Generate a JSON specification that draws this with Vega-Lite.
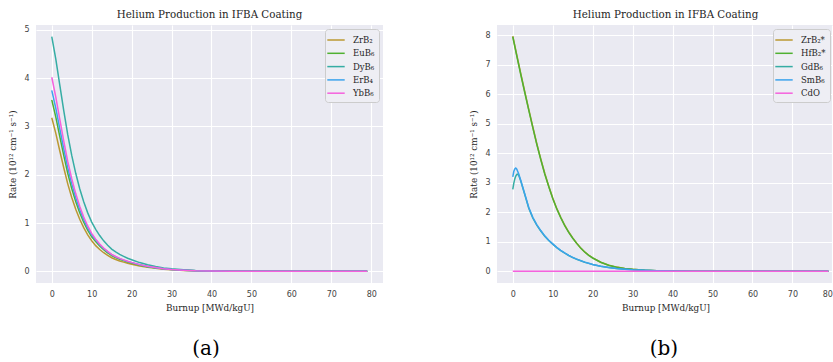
{
  "$schema": "https://vega.github.io/schema/vega-lite/v6.json",
  "background": "white",
  "padding": {"left": 8, "top": 9, "right": 0, "bottom": 0},
  "config": {
    "view": {"fill": "#eaeaf2", "stroke": null},
    "font": "DejaVu Serif",
    "title": {"font": "DejaVu Serif", "fontSize": 10.3, "fontWeight": "normal", "color": "#262626", "offset": 5},
    "axis": {
      "grid": true, "gridColor": "#ffffff", "gridWidth": 1.1,
      "domain": false, "ticks": false, "tickSize": 0,
      "labelFont": "DejaVu Sans", "labelFontSize": 8, "labelColor": "#444444", "labelPadding": 7,
      "titleFont": "DejaVu Serif", "titleFontSize": 8.8, "titleFontWeight": "normal", "titleColor": "#262626"
    },
    "legend": {
      "symbolType": "M-1.45,0H1.45", "symbolSize": 144, "symbolStrokeWidth": 1.5,
      "labelFont": "DejaVu Serif", "labelFontSize": 8.5, "labelColor": "#262626", "labelOffset": 10,
      "strokeColor": "#cccccc", "fillColor": "#eeeef4", "cornerRadius": 3, "padding": 4, "rowPadding": 1.3
    },
    "concat": {"spacing": 86}
  },
  "hconcat": [
    {
      "title": {"text": "(a)", "orient": "bottom", "anchor": "middle", "fontSize": 20, "color": "#000000", "offset": 27, "dx": 10},
      "resolve": {"scale": {"color": "independent"}, "legend": {"color": "independent"}},
      "vconcat": [
        {
          "title": {"text": "Helium Production in IFBA Coating"},
          "width": 347,
          "height": 258,
          "data": {"values": [
            {"material": "ZrB₂", "burnup": 0, "rate": 3.18},
            {"material": "ZrB₂", "burnup": 1, "rate": 2.864},
            {"material": "ZrB₂", "burnup": 2, "rate": 2.497},
            {"material": "ZrB₂", "burnup": 3, "rate": 2.145},
            {"material": "ZrB₂", "burnup": 4, "rate": 1.811},
            {"material": "ZrB₂", "burnup": 5, "rate": 1.529},
            {"material": "ZrB₂", "burnup": 6, "rate": 1.287},
            {"material": "ZrB₂", "burnup": 7, "rate": 1.077},
            {"material": "ZrB₂", "burnup": 8, "rate": 0.903},
            {"material": "ZrB₂", "burnup": 9, "rate": 0.754},
            {"material": "ZrB₂", "burnup": 10, "rate": 0.632},
            {"material": "ZrB₂", "burnup": 11, "rate": 0.531},
            {"material": "ZrB₂", "burnup": 12, "rate": 0.451},
            {"material": "ZrB₂", "burnup": 13, "rate": 0.384},
            {"material": "ZrB₂", "burnup": 14, "rate": 0.329},
            {"material": "ZrB₂", "burnup": 15, "rate": 0.281},
            {"material": "ZrB₂", "burnup": 16, "rate": 0.244},
            {"material": "ZrB₂", "burnup": 17, "rate": 0.214},
            {"material": "ZrB₂", "burnup": 18, "rate": 0.189},
            {"material": "ZrB₂", "burnup": 19, "rate": 0.165},
            {"material": "ZrB₂", "burnup": 20, "rate": 0.146},
            {"material": "ZrB₂", "burnup": 22, "rate": 0.11},
            {"material": "ZrB₂", "burnup": 24, "rate": 0.082},
            {"material": "ZrB₂", "burnup": 26, "rate": 0.061},
            {"material": "ZrB₂", "burnup": 28, "rate": 0.043},
            {"material": "ZrB₂", "burnup": 30, "rate": 0.031},
            {"material": "ZrB₂", "burnup": 33, "rate": 0.018},
            {"material": "ZrB₂", "burnup": 36, "rate": 0.009},
            {"material": "ZrB₂", "burnup": 40, "rate": 0.005},
            {"material": "ZrB₂", "burnup": 45, "rate": 0.002},
            {"material": "ZrB₂", "burnup": 50, "rate": 0.001},
            {"material": "ZrB₂", "burnup": 60, "rate": 0},
            {"material": "ZrB₂", "burnup": 70, "rate": 0},
            {"material": "ZrB₂", "burnup": 79, "rate": 0},

            {"material": "EuB₆", "burnup": 0, "rate": 3.55},
            {"material": "EuB₆", "burnup": 1, "rate": 3.199},
            {"material": "EuB₆", "burnup": 2, "rate": 2.795},
            {"material": "EuB₆", "burnup": 3, "rate": 2.401},
            {"material": "EuB₆", "burnup": 4, "rate": 2.032},
            {"material": "EuB₆", "burnup": 5, "rate": 1.716},
            {"material": "EuB₆", "burnup": 6, "rate": 1.445},
            {"material": "EuB₆", "burnup": 7, "rate": 1.212},
            {"material": "EuB₆", "burnup": 8, "rate": 1.017},
            {"material": "EuB₆", "burnup": 9, "rate": 0.851},
            {"material": "EuB₆", "burnup": 10, "rate": 0.714},
            {"material": "EuB₆", "burnup": 11, "rate": 0.618},
            {"material": "EuB₆", "burnup": 12, "rate": 0.525},
            {"material": "EuB₆", "burnup": 13, "rate": 0.447},
            {"material": "EuB₆", "burnup": 14, "rate": 0.383},
            {"material": "EuB₆", "burnup": 15, "rate": 0.327},
            {"material": "EuB₆", "burnup": 16, "rate": 0.284},
            {"material": "EuB₆", "burnup": 17, "rate": 0.249},
            {"material": "EuB₆", "burnup": 18, "rate": 0.22},
            {"material": "EuB₆", "burnup": 19, "rate": 0.192},
            {"material": "EuB₆", "burnup": 20, "rate": 0.17},
            {"material": "EuB₆", "burnup": 22, "rate": 0.128},
            {"material": "EuB₆", "burnup": 24, "rate": 0.096},
            {"material": "EuB₆", "burnup": 26, "rate": 0.071},
            {"material": "EuB₆", "burnup": 28, "rate": 0.05},
            {"material": "EuB₆", "burnup": 30, "rate": 0.036},
            {"material": "EuB₆", "burnup": 33, "rate": 0.021},
            {"material": "EuB₆", "burnup": 36, "rate": 0.011},
            {"material": "EuB₆", "burnup": 40, "rate": 0.006},
            {"material": "EuB₆", "burnup": 45, "rate": 0.002},
            {"material": "EuB₆", "burnup": 50, "rate": 0.001},
            {"material": "EuB₆", "burnup": 60, "rate": 0},
            {"material": "EuB₆", "burnup": 70, "rate": 0},
            {"material": "EuB₆", "burnup": 79, "rate": 0},

            {"material": "DyB₆", "burnup": 0, "rate": 4.86},
            {"material": "DyB₆", "burnup": 1, "rate": 4.4},
            {"material": "DyB₆", "burnup": 2, "rate": 3.86},
            {"material": "DyB₆", "burnup": 3, "rate": 3.33},
            {"material": "DyB₆", "burnup": 4, "rate": 2.83},
            {"material": "DyB₆", "burnup": 5, "rate": 2.4},
            {"material": "DyB₆", "burnup": 6, "rate": 2.03},
            {"material": "DyB₆", "burnup": 7, "rate": 1.71},
            {"material": "DyB₆", "burnup": 8, "rate": 1.44},
            {"material": "DyB₆", "burnup": 9, "rate": 1.21},
            {"material": "DyB₆", "burnup": 10, "rate": 1.02},
            {"material": "DyB₆", "burnup": 11, "rate": 0.87},
            {"material": "DyB₆", "burnup": 12, "rate": 0.74},
            {"material": "DyB₆", "burnup": 13, "rate": 0.63},
            {"material": "DyB₆", "burnup": 14, "rate": 0.54},
            {"material": "DyB₆", "burnup": 15, "rate": 0.46},
            {"material": "DyB₆", "burnup": 16, "rate": 0.4},
            {"material": "DyB₆", "burnup": 17, "rate": 0.35},
            {"material": "DyB₆", "burnup": 18, "rate": 0.31},
            {"material": "DyB₆", "burnup": 19, "rate": 0.27},
            {"material": "DyB₆", "burnup": 20, "rate": 0.24},
            {"material": "DyB₆", "burnup": 22, "rate": 0.18},
            {"material": "DyB₆", "burnup": 24, "rate": 0.135},
            {"material": "DyB₆", "burnup": 26, "rate": 0.1},
            {"material": "DyB₆", "burnup": 28, "rate": 0.07},
            {"material": "DyB₆", "burnup": 30, "rate": 0.05},
            {"material": "DyB₆", "burnup": 33, "rate": 0.03},
            {"material": "DyB₆", "burnup": 36, "rate": 0.015},
            {"material": "DyB₆", "burnup": 40, "rate": 0.008},
            {"material": "DyB₆", "burnup": 45, "rate": 0.003},
            {"material": "DyB₆", "burnup": 50, "rate": 0.001},
            {"material": "DyB₆", "burnup": 60, "rate": 0},
            {"material": "DyB₆", "burnup": 70, "rate": 0},
            {"material": "DyB₆", "burnup": 79, "rate": 0},

            {"material": "ErB₄", "burnup": 0, "rate": 3.75},
            {"material": "ErB₄", "burnup": 1, "rate": 3.379},
            {"material": "ErB₄", "burnup": 2, "rate": 2.953},
            {"material": "ErB₄", "burnup": 3, "rate": 2.534},
            {"material": "ErB₄", "burnup": 4, "rate": 2.142},
            {"material": "ErB₄", "burnup": 5, "rate": 1.81},
            {"material": "ErB₄", "burnup": 6, "rate": 1.523},
            {"material": "ErB₄", "burnup": 7, "rate": 1.276},
            {"material": "ErB₄", "burnup": 8, "rate": 1.068},
            {"material": "ErB₄", "burnup": 9, "rate": 0.894},
            {"material": "ErB₄", "burnup": 10, "rate": 0.75},
            {"material": "ErB₄", "burnup": 11, "rate": 0.648},
            {"material": "ErB₄", "burnup": 12, "rate": 0.551},
            {"material": "ErB₄", "burnup": 13, "rate": 0.469},
            {"material": "ErB₄", "burnup": 14, "rate": 0.402},
            {"material": "ErB₄", "burnup": 15, "rate": 0.343},
            {"material": "ErB₄", "burnup": 16, "rate": 0.298},
            {"material": "ErB₄", "burnup": 17, "rate": 0.261},
            {"material": "ErB₄", "burnup": 18, "rate": 0.231},
            {"material": "ErB₄", "burnup": 19, "rate": 0.201},
            {"material": "ErB₄", "burnup": 20, "rate": 0.179},
            {"material": "ErB₄", "burnup": 22, "rate": 0.134},
            {"material": "ErB₄", "burnup": 24, "rate": 0.101},
            {"material": "ErB₄", "burnup": 26, "rate": 0.075},
            {"material": "ErB₄", "burnup": 28, "rate": 0.052},
            {"material": "ErB₄", "burnup": 30, "rate": 0.037},
            {"material": "ErB₄", "burnup": 33, "rate": 0.022},
            {"material": "ErB₄", "burnup": 36, "rate": 0.011},
            {"material": "ErB₄", "burnup": 40, "rate": 0.006},
            {"material": "ErB₄", "burnup": 45, "rate": 0.002},
            {"material": "ErB₄", "burnup": 50, "rate": 0.001},
            {"material": "ErB₄", "burnup": 60, "rate": 0},
            {"material": "ErB₄", "burnup": 70, "rate": 0},
            {"material": "ErB₄", "burnup": 79, "rate": 0},

            {"material": "YbB₆", "burnup": 0, "rate": 4.02},
            {"material": "YbB₆", "burnup": 1, "rate": 3.612},
            {"material": "YbB₆", "burnup": 2, "rate": 3.15},
            {"material": "YbB₆", "burnup": 3, "rate": 2.697},
            {"material": "YbB₆", "burnup": 4, "rate": 2.275},
            {"material": "YbB₆", "burnup": 5, "rate": 1.918},
            {"material": "YbB₆", "burnup": 6, "rate": 1.61},
            {"material": "YbB₆", "burnup": 7, "rate": 1.346},
            {"material": "YbB₆", "burnup": 8, "rate": 1.125},
            {"material": "YbB₆", "burnup": 9, "rate": 0.939},
            {"material": "YbB₆", "burnup": 10, "rate": 0.785},
            {"material": "YbB₆", "burnup": 11, "rate": 0.666},
            {"material": "YbB₆", "burnup": 12, "rate": 0.566},
            {"material": "YbB₆", "burnup": 13, "rate": 0.482},
            {"material": "YbB₆", "burnup": 14, "rate": 0.413},
            {"material": "YbB₆", "burnup": 15, "rate": 0.352},
            {"material": "YbB₆", "burnup": 16, "rate": 0.306},
            {"material": "YbB₆", "burnup": 17, "rate": 0.268},
            {"material": "YbB₆", "burnup": 18, "rate": 0.237},
            {"material": "YbB₆", "burnup": 19, "rate": 0.207},
            {"material": "YbB₆", "burnup": 20, "rate": 0.184},
            {"material": "YbB₆", "burnup": 22, "rate": 0.138},
            {"material": "YbB₆", "burnup": 24, "rate": 0.103},
            {"material": "YbB₆", "burnup": 26, "rate": 0.077},
            {"material": "YbB₆", "burnup": 28, "rate": 0.054},
            {"material": "YbB₆", "burnup": 30, "rate": 0.038},
            {"material": "YbB₆", "burnup": 33, "rate": 0.023},
            {"material": "YbB₆", "burnup": 36, "rate": 0.011},
            {"material": "YbB₆", "burnup": 40, "rate": 0.006},
            {"material": "YbB₆", "burnup": 45, "rate": 0.002},
            {"material": "YbB₆", "burnup": 50, "rate": 0.001},
            {"material": "YbB₆", "burnup": 60, "rate": 0},
            {"material": "YbB₆", "burnup": 70, "rate": 0},
            {"material": "YbB₆", "burnup": 79, "rate": 0}
          ]},
          "mark": {"type": "line", "strokeWidth": 1.5, "clip": true},
          "encoding": {
            "x": {
              "field": "burnup", "type": "quantitative",
              "scale": {"domain": [-3.95, 82.95], "nice": false, "zero": false},
              "axis": {"values": [0, 10, 20, 30, 40, 50, 60, 70, 80], "title": "Burnup [MWd/kgU]", "titlePadding": 5}
            },
            "y": {
              "field": "rate", "type": "quantitative",
              "scale": {"domain": [-0.243, 5.103], "nice": false, "zero": false},
              "axis": {"values": [0, 1, 2, 3, 4, 5], "title": "Rate (10¹² cm⁻¹ s⁻¹)", "titlePadding": 6}
            },
            "color": {
              "field": "material", "type": "nominal",
              "scale": {
                "domain": ["ZrB₂", "EuB₆", "DyB₆", "ErB₄", "YbB₆"],
                "range": ["#bb9832", "#50b131", "#36ada4", "#3ba3ec", "#f561dd"]
              },
              "legend": {"title": null, "orient": "top-right", "offset": 4}
            }
          }
        }
      ]
    },
    {
      "title": {"text": "(b)", "orient": "bottom", "anchor": "middle", "fontSize": 20, "color": "#000000", "offset": 27, "dx": 12},
      "resolve": {"scale": {"color": "independent"}, "legend": {"color": "independent"}},
      "vconcat": [
        {
          "title": {"text": "Helium Production in IFBA Coating"},
          "width": 337,
          "height": 258,
          "data": {"values": [
            {"material": "ZrB₂*", "burnup": 0, "rate": 7.97},
            {"material": "ZrB₂*", "burnup": 1, "rate": 7.33},
            {"material": "ZrB₂*", "burnup": 2, "rate": 6.7},
            {"material": "ZrB₂*", "burnup": 3, "rate": 6.09},
            {"material": "ZrB₂*", "burnup": 4, "rate": 5.49},
            {"material": "ZrB₂*", "burnup": 5, "rate": 4.9},
            {"material": "ZrB₂*", "burnup": 6, "rate": 4.33},
            {"material": "ZrB₂*", "burnup": 7, "rate": 3.81},
            {"material": "ZrB₂*", "burnup": 8, "rate": 3.32},
            {"material": "ZrB₂*", "burnup": 9, "rate": 2.885},
            {"material": "ZrB₂*", "burnup": 10, "rate": 2.485},
            {"material": "ZrB₂*", "burnup": 11, "rate": 2.13},
            {"material": "ZrB₂*", "burnup": 12, "rate": 1.83},
            {"material": "ZrB₂*", "burnup": 13, "rate": 1.56},
            {"material": "ZrB₂*", "burnup": 14, "rate": 1.33},
            {"material": "ZrB₂*", "burnup": 15, "rate": 1.13},
            {"material": "ZrB₂*", "burnup": 16, "rate": 0.952},
            {"material": "ZrB₂*", "burnup": 17, "rate": 0.79},
            {"material": "ZrB₂*", "burnup": 18, "rate": 0.656},
            {"material": "ZrB₂*", "burnup": 19, "rate": 0.544},
            {"material": "ZrB₂*", "burnup": 20, "rate": 0.453},
            {"material": "ZrB₂*", "burnup": 22, "rate": 0.307},
            {"material": "ZrB₂*", "burnup": 24, "rate": 0.207},
            {"material": "ZrB₂*", "burnup": 26, "rate": 0.141},
            {"material": "ZrB₂*", "burnup": 28, "rate": 0.096},
            {"material": "ZrB₂*", "burnup": 30, "rate": 0.0655},
            {"material": "ZrB₂*", "burnup": 33, "rate": 0.037},
            {"material": "ZrB₂*", "burnup": 36, "rate": 0.021},
            {"material": "ZrB₂*", "burnup": 40, "rate": 0.01},
            {"material": "ZrB₂*", "burnup": 45, "rate": 0.004},
            {"material": "ZrB₂*", "burnup": 50, "rate": 0.0015},
            {"material": "ZrB₂*", "burnup": 60, "rate": 0},
            {"material": "ZrB₂*", "burnup": 70, "rate": 0},
            {"material": "ZrB₂*", "burnup": 79, "rate": 0},

            {"material": "HfB₂*", "burnup": 0, "rate": 7.95},
            {"material": "HfB₂*", "burnup": 1, "rate": 7.3},
            {"material": "HfB₂*", "burnup": 2, "rate": 6.67},
            {"material": "HfB₂*", "burnup": 3, "rate": 6.06},
            {"material": "HfB₂*", "burnup": 4, "rate": 5.46},
            {"material": "HfB₂*", "burnup": 5, "rate": 4.88},
            {"material": "HfB₂*", "burnup": 6, "rate": 4.31},
            {"material": "HfB₂*", "burnup": 7, "rate": 3.79},
            {"material": "HfB₂*", "burnup": 8, "rate": 3.3},
            {"material": "HfB₂*", "burnup": 9, "rate": 2.87},
            {"material": "HfB₂*", "burnup": 10, "rate": 2.47},
            {"material": "HfB₂*", "burnup": 11, "rate": 2.12},
            {"material": "HfB₂*", "burnup": 12, "rate": 1.82},
            {"material": "HfB₂*", "burnup": 13, "rate": 1.55},
            {"material": "HfB₂*", "burnup": 14, "rate": 1.32},
            {"material": "HfB₂*", "burnup": 15, "rate": 1.12},
            {"material": "HfB₂*", "burnup": 16, "rate": 0.946},
            {"material": "HfB₂*", "burnup": 17, "rate": 0.785},
            {"material": "HfB₂*", "burnup": 18, "rate": 0.652},
            {"material": "HfB₂*", "burnup": 19, "rate": 0.541},
            {"material": "HfB₂*", "burnup": 20, "rate": 0.45},
            {"material": "HfB₂*", "burnup": 22, "rate": 0.305},
            {"material": "HfB₂*", "burnup": 24, "rate": 0.206},
            {"material": "HfB₂*", "burnup": 26, "rate": 0.14},
            {"material": "HfB₂*", "burnup": 28, "rate": 0.0955},
            {"material": "HfB₂*", "burnup": 30, "rate": 0.065},
            {"material": "HfB₂*", "burnup": 33, "rate": 0.037},
            {"material": "HfB₂*", "burnup": 36, "rate": 0.021},
            {"material": "HfB₂*", "burnup": 40, "rate": 0.01},
            {"material": "HfB₂*", "burnup": 45, "rate": 0.004},
            {"material": "HfB₂*", "burnup": 50, "rate": 0.0015},
            {"material": "HfB₂*", "burnup": 60, "rate": 0},
            {"material": "HfB₂*", "burnup": 70, "rate": 0},
            {"material": "HfB₂*", "burnup": 79, "rate": 0},

            {"material": "GdB₆", "burnup": 0, "rate": 2.78},
            {"material": "GdB₆", "burnup": 0.25, "rate": 2.98},
            {"material": "GdB₆", "burnup": 0.5, "rate": 3.13},
            {"material": "GdB₆", "burnup": 0.75, "rate": 3.23},
            {"material": "GdB₆", "burnup": 1, "rate": 3.28},
            {"material": "GdB₆", "burnup": 1.25, "rate": 3.29},
            {"material": "GdB₆", "burnup": 1.5, "rate": 3.25},
            {"material": "GdB₆", "burnup": 2, "rate": 3.06},
            {"material": "GdB₆", "burnup": 3, "rate": 2.6},
            {"material": "GdB₆", "burnup": 4, "rate": 2.14},
            {"material": "GdB₆", "burnup": 5, "rate": 1.81},
            {"material": "GdB₆", "burnup": 6, "rate": 1.565},
            {"material": "GdB₆", "burnup": 7, "rate": 1.365},
            {"material": "GdB₆", "burnup": 8, "rate": 1.19},
            {"material": "GdB₆", "burnup": 9, "rate": 1.04},
            {"material": "GdB₆", "burnup": 10, "rate": 0.92},
            {"material": "GdB₆", "burnup": 11, "rate": 0.8},
            {"material": "GdB₆", "burnup": 12, "rate": 0.7},
            {"material": "GdB₆", "burnup": 13, "rate": 0.615},
            {"material": "GdB₆", "burnup": 14, "rate": 0.535},
            {"material": "GdB₆", "burnup": 15, "rate": 0.465},
            {"material": "GdB₆", "burnup": 16, "rate": 0.405},
            {"material": "GdB₆", "burnup": 17, "rate": 0.355},
            {"material": "GdB₆", "burnup": 18, "rate": 0.307},
            {"material": "GdB₆", "burnup": 19, "rate": 0.267},
            {"material": "GdB₆", "burnup": 20, "rate": 0.228},
            {"material": "GdB₆", "burnup": 22, "rate": 0.168},
            {"material": "GdB₆", "burnup": 24, "rate": 0.129},
            {"material": "GdB₆", "burnup": 26, "rate": 0.094},
            {"material": "GdB₆", "burnup": 28, "rate": 0.069},
            {"material": "GdB₆", "burnup": 30, "rate": 0.049},
            {"material": "GdB₆", "burnup": 33, "rate": 0.032},
            {"material": "GdB₆", "burnup": 36, "rate": 0.019},
            {"material": "GdB₆", "burnup": 40, "rate": 0.01},
            {"material": "GdB₆", "burnup": 45, "rate": 0.004},
            {"material": "GdB₆", "burnup": 50, "rate": 0.0015},
            {"material": "GdB₆", "burnup": 60, "rate": 0},
            {"material": "GdB₆", "burnup": 70, "rate": 0},
            {"material": "GdB₆", "burnup": 79, "rate": 0},

            {"material": "SmB₆", "burnup": 0, "rate": 3.2},
            {"material": "SmB₆", "burnup": 0.25, "rate": 3.38},
            {"material": "SmB₆", "burnup": 0.5, "rate": 3.47},
            {"material": "SmB₆", "burnup": 0.75, "rate": 3.5},
            {"material": "SmB₆", "burnup": 1, "rate": 3.46},
            {"material": "SmB₆", "burnup": 1.5, "rate": 3.3},
            {"material": "SmB₆", "burnup": 2, "rate": 3.08},
            {"material": "SmB₆", "burnup": 3, "rate": 2.62},
            {"material": "SmB₆", "burnup": 4, "rate": 2.16},
            {"material": "SmB₆", "burnup": 5, "rate": 1.83},
            {"material": "SmB₆", "burnup": 6, "rate": 1.58},
            {"material": "SmB₆", "burnup": 7, "rate": 1.38},
            {"material": "SmB₆", "burnup": 8, "rate": 1.2},
            {"material": "SmB₆", "burnup": 9, "rate": 1.05},
            {"material": "SmB₆", "burnup": 10, "rate": 0.93},
            {"material": "SmB₆", "burnup": 11, "rate": 0.81},
            {"material": "SmB₆", "burnup": 12, "rate": 0.71},
            {"material": "SmB₆", "burnup": 13, "rate": 0.62},
            {"material": "SmB₆", "burnup": 14, "rate": 0.54},
            {"material": "SmB₆", "burnup": 15, "rate": 0.47},
            {"material": "SmB₆", "burnup": 16, "rate": 0.41},
            {"material": "SmB₆", "burnup": 17, "rate": 0.36},
            {"material": "SmB₆", "burnup": 18, "rate": 0.31},
            {"material": "SmB₆", "burnup": 19, "rate": 0.27},
            {"material": "SmB₆", "burnup": 20, "rate": 0.23},
            {"material": "SmB₆", "burnup": 22, "rate": 0.17},
            {"material": "SmB₆", "burnup": 24, "rate": 0.13},
            {"material": "SmB₆", "burnup": 26, "rate": 0.095},
            {"material": "SmB₆", "burnup": 28, "rate": 0.07},
            {"material": "SmB₆", "burnup": 30, "rate": 0.05},
            {"material": "SmB₆", "burnup": 33, "rate": 0.032},
            {"material": "SmB₆", "burnup": 36, "rate": 0.019},
            {"material": "SmB₆", "burnup": 40, "rate": 0.01},
            {"material": "SmB₆", "burnup": 45, "rate": 0.004},
            {"material": "SmB₆", "burnup": 50, "rate": 0.0015},
            {"material": "SmB₆", "burnup": 60, "rate": 0},
            {"material": "SmB₆", "burnup": 70, "rate": 0},
            {"material": "SmB₆", "burnup": 79, "rate": 0},

            {"material": "CdO", "burnup": 0, "rate": 0},
            {"material": "CdO", "burnup": 20, "rate": 0},
            {"material": "CdO", "burnup": 40, "rate": 0},
            {"material": "CdO", "burnup": 60, "rate": 0},
            {"material": "CdO", "burnup": 79, "rate": 0}
          ]},
          "mark": {"type": "line", "strokeWidth": 1.5, "clip": true},
          "encoding": {
            "x": {
              "field": "burnup", "type": "quantitative",
              "scale": {"domain": [-3.95, 80.4], "nice": false, "zero": false},
              "axis": {"values": [0, 10, 20, 30, 40, 50, 60, 70, 80], "title": "Burnup [MWd/kgU]", "titlePadding": 5, "labelFlush": 5}
            },
            "y": {
              "field": "rate", "type": "quantitative",
              "scale": {"domain": [-0.3975, 8.3475], "nice": false, "zero": false},
              "axis": {"values": [0, 1, 2, 3, 4, 5, 6, 7, 8], "title": "Rate (10¹² cm⁻¹ s⁻¹)", "titlePadding": 6}
            },
            "color": {
              "field": "material", "type": "nominal",
              "scale": {
                "domain": ["ZrB₂*", "HfB₂*", "GdB₆", "SmB₆", "CdO"],
                "range": ["#bb9832", "#50b131", "#36ada4", "#3ba3ec", "#f561dd"]
              },
              "legend": {"title": null, "orient": "top-right", "offset": 4}
            }
          }
        }
      ]
    }
  ],
  "resolve": {"scale": {"color": "independent"}}
}
